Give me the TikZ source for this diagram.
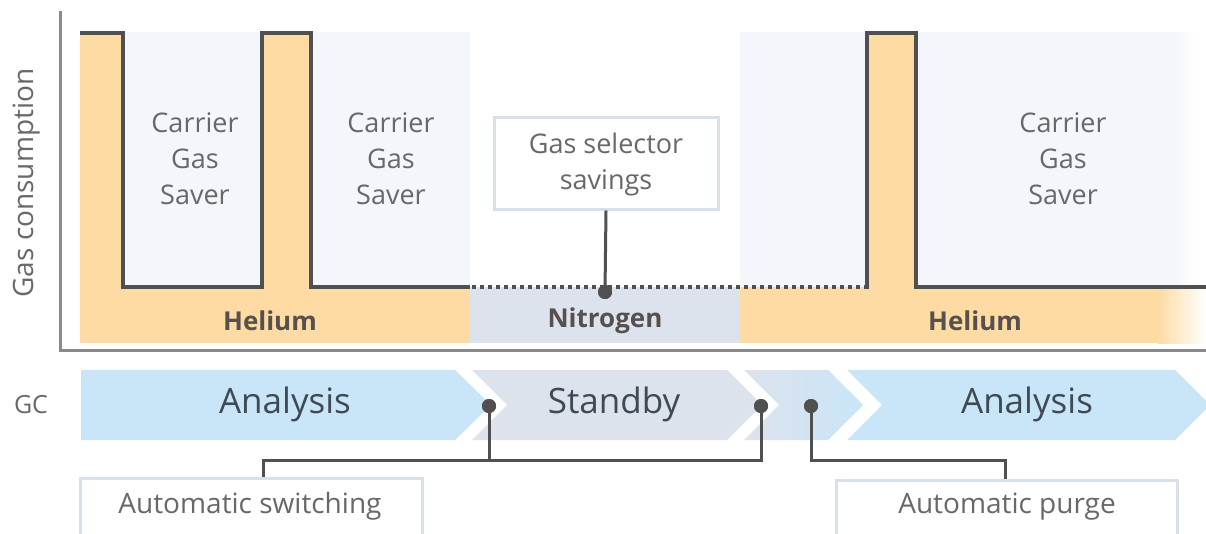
\documentclass[tikz,border=0pt]{standalone}
\usepackage{fontspec}
\setmainfont{Open Sans}
\setsansfont{Open Sans}
\definecolor{heliumc}{HTML}{FDDBA2}
\definecolor{panelc}{HTML}{F3F6FA}
\definecolor{nitroc}{HTML}{DCE3EC}
\definecolor{chevblue}{HTML}{C9E5F8}
\definecolor{stepc}{HTML}{505050}
\definecolor{axisc}{HTML}{8A8A8A}
\definecolor{txtc}{HTML}{686868}
\definecolor{boldc}{HTML}{56504F}
\definecolor{chevtxt}{HTML}{3F4A55}
\definecolor{framec}{HTML}{D8E0E9}
\tikzset{
  lbl/.style={text=txtc, font=\fontsize{27}{36}\selectfont, align=center, inner sep=0},
  bandlbl/.style={text=boldc, font=\fontsize{26}{30}\selectfont\bfseries, inner sep=0},
  chevlbl/.style={text=chevtxt, font=\fontsize{35}{40}\selectfont, inner sep=0},
  calloutbox/.style={draw=framec, line width=3, fill=white, rectangle},
  conn/.style={draw=stepc, line width=3},
  dot/.style={circle, fill=stepc, inner sep=0, minimum size=14},
}
\begin{document}
\begin{tikzpicture}[x=1pt, y=-1pt]
\useasboundingbox (0,0) rectangle (1206,533);
\clip (0,0) rectangle (1206,533);
\fill[white] (0,0) rectangle (1206,533);

% light panels behind the saver phases
\fill[panelc] (122,32) rectangle (470,288);
\fill[panelc] (740,32) rectangle (1176,288);
\shade[left color=panelc, right color=white] (1175,32) rectangle (1194,288);

% helium consumption
\fill[heliumc] (80,32) rectangle (123,288);
\fill[heliumc] (262,32) rectangle (311,288);
\fill[heliumc] (867,32) rectangle (916,288);
\fill[heliumc] (80,287) rectangle (470,343);
\fill[heliumc] (740,287) rectangle (1158,343);
\shade[left color=heliumc, right color=white] (1157,287) rectangle (1206,343);

% nitrogen during standby
\fill[nitroc] (470,287) rectangle (740,343);

% consumption profile
\draw[stepc, line width=4, line join=miter]
  (80,33) -- (123,33) -- (123,287) -- (262,287) -- (262,33) -- (311,33)
  -- (311,287) -- (470,287);
\draw[stepc, line width=4, dash pattern=on 4 off 4] (472,287) -- (866,287);
\draw[stepc, line width=4, line join=miter]
  (867,288.5) -- (867,33) -- (916,33) -- (916,287) -- (1206,287);

% axes
\draw[axisc, line width=3] (60,11) -- (60,350) -- (1206,350);
\node[lbl, rotate=90, font=\fontsize{28}{34}\selectfont] (ylab) at (27,183) {Gas consumption};

% phase labels
\node[lbl] (cgs1) at (195,159) {Carrier\\Gas\\Saver};
\node[lbl] (cgs2) at (391,159) {Carrier\\Gas\\Saver};
\node[lbl] (cgs3) at (1063,159) {Carrier\\Gas\\Saver};
\node[bandlbl] (he1) at (270,321) {Helium};
\node[bandlbl] (n2) at (605,321) {Nitrogen};
\node[bandlbl] (he2) at (975,321) {Helium};

% gas selector callout
\node[calloutbox, minimum width=224, minimum height=92] (gsbox) at (606,163) {};
\node[lbl] (gs) at (606,164) {Gas selector\\savings};
\node[dot] (gdot) at (605,292) {};
\draw[conn] (gsbox.south) -- (gdot.center);
\node[dot] at (605,292) {};

% GC timeline
\node[lbl, font=\fontsize{25}{30}\selectfont] (gc) at (31,405) {GC};
\fill[chevblue] (81,370) -- (455,370) -- (491,405) -- (455,440) -- (81,440) -- cycle;
\fill[nitroc] (472,370) -- (727,370) -- (762,405) -- (727,440) -- (472,440) -- (507,405) -- cycle;
\shade[left color=nitroc, right color=chevblue]
  (744,370) -- (828,370) -- (863,405) -- (828,440) -- (744,440) -- (779,405) -- cycle;
\fill[chevblue] (847,370) -- (1175,370) -- (1210,405) -- (1175,440) -- (847,440) -- (882,405) -- cycle;
\node[chevlbl] (an1) at (285,404) {Analysis};
\node[chevlbl] (sb) at (614,404) {Standby};
\node[chevlbl] (an2) at (1027,404) {Analysis};

% event callouts
\node[calloutbox, minimum width=342, minimum height=80, anchor=north] (swbox) at (251,477) {};
\node[lbl, font=\fontsize{28}{34}\selectfont] (sw) at (250,506) {Automatic switching};
\node[calloutbox, minimum width=341, minimum height=80, anchor=north] (pgbox) at (1007,479) {};
\node[lbl, font=\fontsize{28}{34}\selectfont] (pg) at (1007,507) {Automatic purge};

\node[dot] (d1) at (489,406) {};
\node[dot] (d2) at (761,406) {};
\node[dot] (d3) at (811,406) {};
\coordinate (j1) at (489,460);
\coordinate (swin) at (263,477);
\coordinate (pgin) at (1005,479);
\draw[conn] (d1.center) -- (j1);
\draw[conn] (swin) |- (j1) -| (d2.center);
\draw[conn] (d3.center) |- (pgin |- j1) -- (pgin);
\node[dot] at (d1) {};
\node[dot] at (d2) {};
\node[dot] at (d3) {};
\end{tikzpicture}
\end{document}
